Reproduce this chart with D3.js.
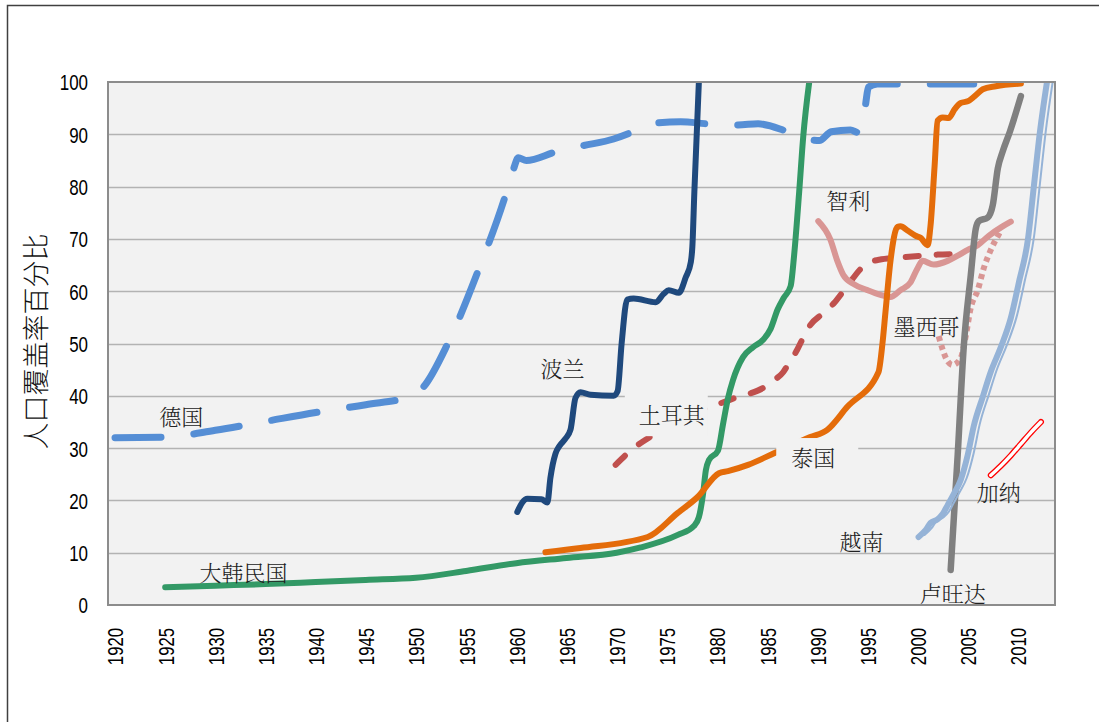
<!DOCTYPE html>
<html><head><meta charset="utf-8">
<script src="https://cdn.jsdelivr.net/npm/d3@7"></script>
<style>
html,body{margin:0;padding:0;background:#fff;}
svg{display:block;}
</style></head><body>
<svg id="chart" width="1099" height="722"></svg>
<script>
// ---------- data ----------
const yTickValues = [0,10,20,30,40,50,60,70,80,90,100];
const xTickYears = [1920,1925,1930,1935,1940,1945,1950,1955,1960,1965,1970,1975,1980,1985,1990,1995,2000,2005,2010];
const yAxisTitle = "人口覆盖率百分比";

const germany = [[1920,32],[1925,32.1],[1930,33.4],[1935,35.1],[1940,36.8],[1945,38.3],[1949.5,39.9],[1950.7,41.6],[1953.2,50.1],[1956.2,63.9],[1958.9,78.2],[1959.7,83.2],[1960.2,85.5],[1961,85.0],[1963.9,86.6],[1966.6,87.8],[1969.7,89.1],[1971.4,90.3],[1973.5,92.1],[1976.4,92.4],[1979.1,92.0],[1982.1,91.8],[1984.1,92.0],[1987.1,90.5],[1989.6,88.9],[1990.2,88.8],[1991.4,90.5],[1993.3,90.8],[1994.2,90.3],[1994.8,95.5],[1995.1,99.0],[1996,99.6],[2005.6,99.6]];
const poland = [[1960.1,17.8],[1960.6,19.6],[1961.1,20.3],[1962.5,20.2],[1963.1,19.6],[1963.4,24.3],[1963.9,28.9],[1964.3,30.4],[1964.9,31.8],[1965.4,33.5],[1965.9,39.6],[1966.4,40.7],[1967.4,40.2],[1969.7,40.0],[1970.1,40.9],[1970.5,50],[1971.05,58.4],[1971.7,58.6],[1973.9,57.9],[1974.7,59.5],[1975.2,60.2],[1976.2,59.7],[1976.9,62.7],[1977.4,65.6],[1977.55,68.5],[1977.75,79],[1978.2,100]];
const korea = [[1925,3.4],[1930,3.7],[1935,4.0],[1940,4.4],[1945,4.8],[1950,5.2],[1955,6.5],[1960,8.0],[1965,9.0],[1970,10.0],[1972.4,11.0],[1976.1,13.4],[1977.7,15.1],[1978.2,16.8],[1978.6,21],[1978.9,25.8],[1979.2,27.7],[1980.1,29.5],[1980.6,34.5],[1981.1,39.5],[1981.6,43],[1982.6,47.4],[1983.6,49.3],[1984.6,50.7],[1985.35,52.8],[1986.05,56.5],[1986.65,58.7],[1987.35,61],[1987.7,67],[1988.2,79],[1988.6,89.5],[1989.2,100]];
const thailand = [[1962.9,10.1],[1966.4,10.9],[1973.1,13],[1976.1,17.6],[1978.1,20.7],[1980.2,25.2],[1981.1,25.6],[1983.1,26.8],[1985.8,29.1],[1989.3,32.1],[1991,33.5],[1993,37.9],[1996.1,44.5],[1996.5,50],[1996.8,56],[1997.3,65.8],[1998.0,72.3],[1998.3,72.4],[1999,71.6],[1999.8,70.6],[2000.3,70.2],[2001,68.8],[2001.3,72.7],[2001.7,84],[2002.0,92.6],[2002.5,93.2],[2003.1,93.1],[2003.7,94.8],[2004.3,96],[2005.0,96.3],[2005.7,97.3],[2006.5,98.6],[2007.8,99.2],[2010.3,99.7]];
const turkey = [[1969.9,26.8],[1971.7,30],[1973.6,32.5],[1974.2,33.3],[1974.9,33.6],[1977,35.8],[1979.2,37.9],[1980.4,38.6],[1982.1,39.8],[1983.4,40.5],[1984.6,41.5],[1985.7,43],[1986.6,44.5],[1987.1,46],[1988,48.8],[1988.7,51.5],[1989.3,53.5],[1990.6,55.8],[1991.7,57.8],[1992.6,60],[1993.5,62.3],[1994.3,64.2],[1995.2,65.5],[1996.4,66.1],[1998,66.4],[2000.5,66.8],[2002,67],[2003.4,67.1]];
const chile = [[1990.1,73.4],[1991.3,69.9],[1992,65.8],[1992.6,63.1],[1993.6,61.4],[1995,60.2],[1996.3,59.3],[1997.3,58.9],[1998.3,60.2],[1999.3,61.7],[2000,64.4],[2000.5,65.8],[2001.6,65.1],[2003,65.8],[2004,66.8],[2005,67.9],[2006,68.8],[2007.1,70.6],[2008.4,72.3],[2009.3,73.3]];
const mexico = [[2002.1,51.4],[2003,46.6],[2003.5,45.9],[2004.3,47.2],[2004.8,51.4],[2005.3,56.8],[2006,60.2],[2006.6,64.4],[2007.3,67.9],[2008.1,70.9],[2008.3,71.6]];
const rwanda = [[2003.3,6.7],[2004,28.7],[2004.6,49.3],[2005.3,63],[2005.8,71.9],[2006.1,73.4],[2007,74.1],[2007.5,76.5],[2008,83.5],[2008.5,86.8],[2009.2,90.5],[2010.3,97.3]];
const vietnam = [[2000.1,13],[2000.8,14.3],[2001.3,15.7],[2002,16.4],[2002.5,17.4],[2003,19.1],[2003.6,21.2],[2004.3,23.9],[2005,28.7],[2005.6,34.2],[2006.5,39.8],[2007.3,44.6],[2008.3,49.3],[2009.3,54.9],[2010.1,61.7],[2011,69.9],[2011.6,80.2],[2012.2,90.5],[2012.9,100]];
const ghana = [[2007.3,24.8],[2008.3,26.6],[2009.3,28.6],[2010.3,30.8],[2011.3,33],[2012.3,35]];

const labelTexts  = ["德国","波兰","土耳其","泰国","智利","墨西哥","越南","加纳","卢旺达","大韩民国"];
const labelYears  = [1926.6,1964.6,1975.5,1989.6,1993.1,2000.9,1994.4,2008.1,2003.5,1932.8];
const labelValues = [35.9,45.1,36.3,28.1,77.2,53.2,12.0,21.4,2.1,6.1];

// ---------- styles ----------
const seriesStyles = [
  {data: germany,  color:"#558ED5", width:7, dash:"46,33", cap:"round"},
  {data: turkey,   color:"#C0504D", width:6, dash:"13,18", cap:"round"},
  {data: chile,    color:"#D99694", width:6, dash:null,    cap:"round"},
  {data: mexico,   color:"#D99694", width:6, dash:"5,4",   cap:"butt"},
  {data: korea,    color:"#339966", width:6, dash:null,    cap:"round"},
  {data: poland,   color:"#1F497D", width:6, dash:null,    cap:"round"},
  {data: thailand, color:"#E46C0A", width:6, dash:null,    cap:"round"},
  {data: rwanda,   color:"#808080", width:6.5, dash:null,  cap:"round"}
];
// label background boxes (offsets from label centre): [left, right, top, bottom]
const labelBoxes = {"土耳其":[-47,36,-21,21], "泰国":[-37,45,-20,21]};

const svg = d3.select("#chart");
const plot = {left:108, top:82, right:1055, bottom:605};
const x = d3.scaleLinear().domain([1919.3, 2013.7]).range([plot.left, plot.right]);
const y = d3.scaleLinear().domain([0,100]).range([plot.bottom, plot.top]);

// outer border
svg.append("rect").attr("x",7.5).attr("y",5.5).attr("width",1120).attr("height",740)
  .attr("fill","#fff").attr("stroke","#404040").attr("stroke-width",1.5);

// plot background
svg.append("rect").attr("x",plot.left).attr("y",plot.top)
  .attr("width",plot.right-plot.left).attr("height",plot.bottom-plot.top).attr("fill","#F2F2F2");

// grid
svg.append("g").selectAll("line").data(yTickValues.filter(v=>v>0 && v<100)).join("line")
  .attr("x1",plot.left).attr("x2",plot.right)
  .attr("y1",d=>Math.round(y(d))+0.5).attr("y2",d=>Math.round(y(d))+0.5)
  .attr("stroke","#B3B3B3").attr("stroke-width",1.5);

// clip
svg.append("clipPath").attr("id","plotclip").append("rect")
  .attr("x",plot.left).attr("y",plot.top).attr("width",plot.right-plot.left).attr("height",plot.bottom-plot.top);

const line = d3.line().x(d=>x(d[0])).y(d=>y(d[1])).curve(d3.curveMonotoneX);
const gLines = svg.append("g").attr("clip-path","url(#plotclip)");

seriesStyles.forEach(s=>{
  gLines.append("path").attr("d",line(s.data)).attr("fill","none")
    .attr("stroke",s.color).attr("stroke-width",s.width)
    .attr("stroke-linecap",s.cap).attr("stroke-linejoin","round")
    .attr("stroke-dasharray",s.dash);
});

// Vietnam: thick-thin compound line
gLines.append("path").attr("d",line(vietnam)).attr("fill","none")
  .attr("stroke","#95B3D7").attr("stroke-width",6).attr("stroke-linecap","round").attr("stroke-linejoin","round");
gLines.append("path").attr("d",line(vietnam)).attr("fill","none").attr("transform","translate(6,-2)")
  .attr("stroke","#95B3D7").attr("stroke-width",2).attr("stroke-linecap","round").attr("stroke-linejoin","round");

// Ghana: red outline line
gLines.append("path").attr("d",line(ghana)).attr("fill","none")
  .attr("stroke","#FF0000").attr("stroke-width",6).attr("stroke-linecap","round").attr("stroke-linejoin","round");
gLines.append("path").attr("d",line(ghana)).attr("fill","none")
  .attr("stroke","#FFFFFF").attr("stroke-width",3.4).attr("stroke-linecap","round").attr("stroke-linejoin","round");

// labels
const labelFont = "'Noto Serif CJK SC','Noto Sans CJK SC',sans-serif";
const gLabels = svg.append("g");
labelTexts.forEach((t,i)=>{
  const cx = x(labelYears[i]), cy = y(labelValues[i]);
  const b = labelBoxes[t];
  if (b) {
    gLabels.append("rect").attr("x",cx+b[0]).attr("y",cy+b[2])
      .attr("width",b[1]-b[0]).attr("height",b[3]-b[2]).attr("fill","#F2F2F2");
  }
  gLabels.append("text").attr("x",cx).attr("y",cy).attr("dy","0.36em")
    .attr("text-anchor","middle").attr("fill","#222")
    .style("font-family",labelFont).style("font-size","22px").style("font-weight","300")
    .text(t);
});

// plot border
svg.append("rect").attr("x",plot.left).attr("y",plot.top)
  .attr("width",plot.right-plot.left).attr("height",plot.bottom-plot.top)
  .attr("fill","none").attr("stroke","#8C8C8C").attr("stroke-width",2);

// axes
const numFont = "'Liberation Sans',Arial,sans-serif";
const yAxis = svg.append("g").attr("transform",`translate(${plot.left},0)`)
  .call(d3.axisLeft(y).tickValues(yTickValues).tickSize(0).tickFormat(d3.format("d")));
yAxis.select(".domain").remove();
yAxis.selectAll("text").attr("x",0).attr("dy","0.36em").attr("text-anchor","end")
  .attr("transform","translate(-20,0) scale(0.77,1)")
  .attr("fill","#000").style("font-family",numFont).style("font-size","22px");

const xAxis = svg.append("g").attr("transform",`translate(0,${plot.bottom})`)
  .call(d3.axisBottom(x).tickValues(xTickYears).tickSize(0).tickFormat(d3.format("d")));
xAxis.select(".domain").remove();
xAxis.selectAll("text").attr("x",0).attr("y",0).attr("dy","0.36em").attr("text-anchor","end")
  .attr("transform","translate(0,23) rotate(-90) scale(0.76,1)")
  .attr("fill","#000").style("font-family",numFont).style("font-size","22px");

// y axis title
svg.append("text").attr("transform",`translate(36,${(plot.top+plot.bottom)/2-2}) rotate(-90)`)
  .attr("text-anchor","middle").attr("dy","0.36em").attr("fill","#111")
  .style("font-family","'Noto Sans CJK SC',sans-serif").style("font-size","27px").style("font-weight","300")
  .text(yAxisTitle);
</script>
</body></html>
